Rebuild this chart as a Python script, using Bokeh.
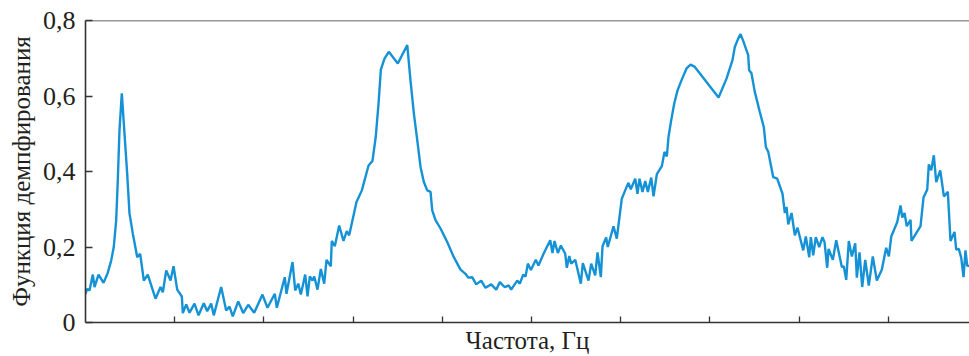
from bokeh.plotting import figure
from bokeh.models import FixedTicker, Range1d, Span
from bokeh.embed import file_html
from bokeh.resources import INLINE

# frequency (axis units, ticks unlabeled) and damping function values
freq = [0.0, 0.019, 0.045, 0.082, 0.101, 0.146, 0.202, 0.250, 0.288, 0.317, 0.344, 0.362, 0.381, 0.407,
        0.437, 0.467, 0.493, 0.530, 0.580, 0.613, 0.654, 0.698, 0.785, 0.841, 0.867, 0.905, 0.953, 0.987,
        1.028, 1.080, 1.091, 1.129, 1.166, 1.222, 1.267, 1.326, 1.364, 1.409, 1.438, 1.521, 1.577, 1.614,
        1.651, 1.712, 1.768, 1.824, 1.891, 1.984, 2.040, 2.122, 2.145, 2.234, 2.253, 2.321, 2.351, 2.385,
        2.414, 2.463, 2.489, 2.515, 2.545, 2.564, 2.601, 2.638, 2.676, 2.702, 2.750, 2.761, 2.795, 2.844,
        2.892, 2.929, 2.956, 3.038, 3.098, 3.173, 3.217, 3.254, 3.285, 3.311, 3.352, 3.400, 3.501, 3.607,
        3.643, 3.681, 3.719, 3.756, 3.793, 3.831, 3.868, 3.887, 3.924, 3.980, 4.055, 4.129, 4.204, 4.260,
        4.290, 4.335, 4.380, 4.436, 4.484, 4.548, 4.604, 4.645, 4.697, 4.746, 4.772, 4.840, 4.869, 4.907,
        4.933, 4.959, 4.993, 5.048, 5.078, 5.135, 5.210, 5.235, 5.258, 5.295, 5.329, 5.378, 5.396, 5.423,
        5.445, 5.490, 5.553, 5.575, 5.639, 5.669, 5.714, 5.740, 5.777, 5.796, 5.837, 5.855, 5.919, 5.956,
        6.012, 6.050, 6.087, 6.113, 6.163, 6.188, 6.211, 6.244, 6.275, 6.304, 6.342, 6.368, 6.405, 6.461,
        6.491, 6.517, 6.536, 6.566, 6.600, 6.637, 6.682, 6.738, 6.783, 6.831, 7.097, 7.186, 7.253, 7.279,
        7.317, 7.343, 7.373, 7.429, 7.440, 7.466, 7.503, 7.559, 7.604, 7.627, 7.654, 7.710, 7.754, 7.814,
        7.840, 7.859, 7.878, 7.915, 7.952, 7.982, 8.046, 8.075, 8.113, 8.131, 8.158, 8.187, 8.225, 8.262,
        8.285, 8.315, 8.330, 8.378, 8.416, 8.479, 8.501, 8.528, 8.557, 8.591, 8.629, 8.647, 8.677, 8.707,
        8.741, 8.781, 8.826, 8.871, 8.927, 8.976, 9.006, 9.033, 9.100, 9.137, 9.156, 9.182, 9.207, 9.249,
        9.260, 9.361, 9.395, 9.436, 9.454, 9.481, 9.510, 9.537, 9.582, 9.623, 9.667, 9.697, 9.742, 9.761,
        9.790, 9.817, 9.843, 9.865, 9.884, 9.910]

damping = [0.076, 0.089, 0.085, 0.127, 0.094, 0.127, 0.105, 0.132, 0.164, 0.200, 0.271, 0.377, 0.509, 0.607,
           0.501, 0.395, 0.289, 0.236, 0.173, 0.182, 0.111, 0.127, 0.063, 0.094, 0.080, 0.138, 0.111, 0.149,
           0.087, 0.069, 0.025, 0.048, 0.026, 0.050, 0.019, 0.051, 0.030, 0.050, 0.019, 0.094, 0.032, 0.042,
           0.016, 0.056, 0.025, 0.047, 0.026, 0.074, 0.039, 0.076, 0.039, 0.120, 0.076, 0.160, 0.085, 0.103,
           0.074, 0.127, 0.069, 0.122, 0.111, 0.122, 0.087, 0.142, 0.103, 0.166, 0.149, 0.216, 0.202, 0.257,
           0.216, 0.242, 0.231, 0.319, 0.350, 0.416, 0.428, 0.492, 0.580, 0.670, 0.699, 0.717, 0.686, 0.735,
           0.642, 0.554, 0.483, 0.412, 0.372, 0.350, 0.346, 0.297, 0.271, 0.249, 0.213, 0.173, 0.140, 0.129,
           0.119, 0.120, 0.101, 0.111, 0.092, 0.101, 0.087, 0.107, 0.094, 0.098, 0.087, 0.111, 0.103, 0.127,
           0.122, 0.156, 0.139, 0.166, 0.151, 0.182, 0.218, 0.184, 0.216, 0.184, 0.204, 0.182, 0.145, 0.176,
           0.156, 0.166, 0.103, 0.157, 0.111, 0.156, 0.125, 0.186, 0.120, 0.202, 0.225, 0.200, 0.255, 0.222,
           0.328, 0.350, 0.370, 0.353, 0.381, 0.341, 0.381, 0.346, 0.375, 0.346, 0.384, 0.334, 0.393, 0.414,
           0.452, 0.440, 0.492, 0.536, 0.580, 0.615, 0.642, 0.673, 0.683, 0.677, 0.596, 0.646, 0.695, 0.730,
           0.752, 0.764, 0.746, 0.708, 0.668, 0.660, 0.611, 0.558, 0.518, 0.465, 0.452, 0.385, 0.381, 0.341,
           0.290, 0.306, 0.260, 0.290, 0.231, 0.251, 0.191, 0.228, 0.173, 0.226, 0.178, 0.226, 0.200, 0.226,
           0.213, 0.145, 0.195, 0.166, 0.218, 0.147, 0.149, 0.113, 0.216, 0.175, 0.210, 0.119, 0.186, 0.094,
           0.166, 0.098, 0.175, 0.111, 0.140, 0.198, 0.175, 0.228, 0.266, 0.310, 0.278, 0.290, 0.255, 0.272,
           0.216, 0.255, 0.332, 0.352, 0.419, 0.403, 0.443, 0.372, 0.403, 0.334, 0.346, 0.216, 0.240, 0.193,
           0.195, 0.172, 0.120, 0.191, 0.151, 0.149]

x_ticks = [1, 2, 3, 4, 5, 6, 7, 8, 9]
y_ticks = [0, 0.2, 0.4, 0.6, 0.8]
y_tick_labels = ["0", "0,2", "0,4", "0,6", "0,8"]
x_title = "Частота, Гц"
y_title = "Функция демпфирования"

FONT = "Liberation Serif"
AXIS_COLOR = "#333333"
TEXT_COLOR = "#231f20"

p = figure(width=969, height=356, output_backend="svg", toolbar_location=None,
           x_range=Range1d(0, 9.91), y_range=Range1d(0, 0.8),
           min_border_left=85, min_border_right=0, min_border_top=20, min_border_bottom=34)
p.background_fill_color = "white"
p.border_fill_color = "white"
p.outline_line_color = None
p.grid.visible = False

p.line(freq, damping, line_color="#1592d6", line_width=2.4)

p.add_layout(Span(location=0.8, dimension="width", line_color=AXIS_COLOR, line_width=1.6))

# x ticks are unlabeled: draw them as minor ticks (which carry no labels)
p.xaxis.ticker = FixedTicker(ticks=[], minor_ticks=x_ticks)
p.xaxis.major_tick_line_color = None
p.xaxis.minor_tick_in = 6
p.xaxis.minor_tick_out = 0
p.xaxis.minor_tick_line_color = AXIS_COLOR
p.xaxis.minor_tick_line_width = 1.3
p.xaxis.major_label_standoff = 0
p.xaxis.axis_label = x_title
p.xaxis.axis_label_text_font = FONT
p.xaxis.axis_label_text_font_style = "normal"
p.xaxis.axis_label_text_font_size = "25px"
p.xaxis.axis_label_text_color = TEXT_COLOR
p.xaxis.axis_label_standoff = 4

p.yaxis.ticker = FixedTicker(ticks=y_ticks)
p.yaxis.major_label_overrides = {t: lab for t, lab in zip(y_ticks, y_tick_labels)}
p.yaxis.major_label_text_font = FONT
p.yaxis.major_label_text_font_size = "26px"
p.yaxis.major_label_text_color = TEXT_COLOR
p.yaxis.major_label_standoff = 10
p.yaxis.major_tick_in = 7
p.yaxis.major_tick_out = 0
p.yaxis.major_tick_line_color = AXIS_COLOR
p.yaxis.major_tick_line_width = 1.3
p.yaxis.minor_tick_line_color = None
p.yaxis.axis_label = y_title
p.yaxis.axis_label_text_font = FONT
p.yaxis.axis_label_text_font_style = "normal"
p.yaxis.axis_label_text_font_size = "25px"
p.yaxis.axis_label_text_color = TEXT_COLOR
p.yaxis.axis_label_standoff = 5

for ax in (p.xaxis, p.yaxis):
    ax.axis_line_color = AXIS_COLOR
    ax.axis_line_width = 1.6

open("out.html", "w").write(file_html(p, INLINE))
